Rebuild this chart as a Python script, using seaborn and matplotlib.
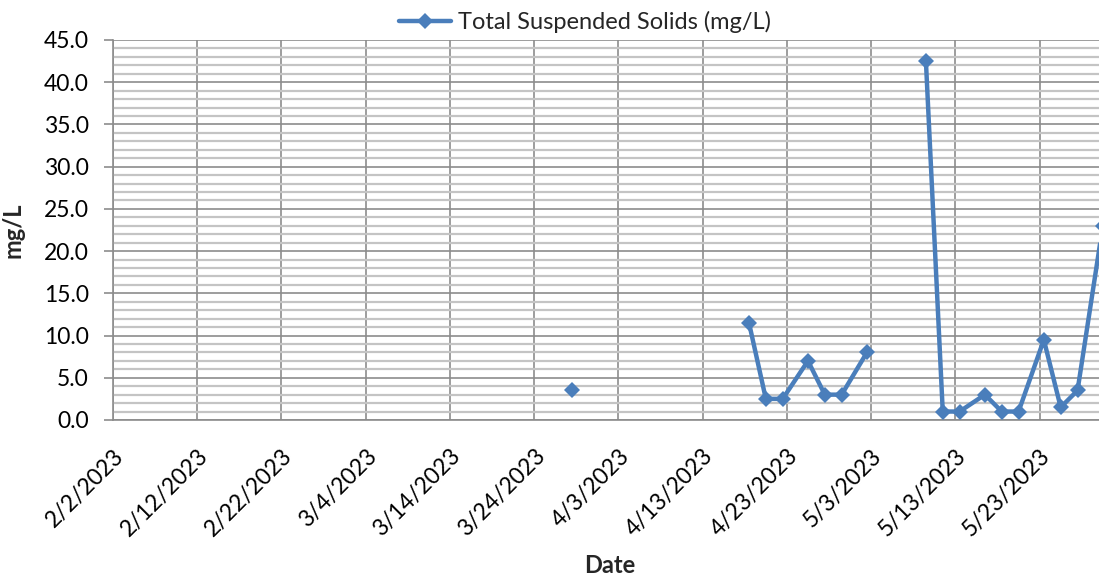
import numpy as np
import pandas as pd
import matplotlib
matplotlib.use("Agg")
import matplotlib.pyplot as plt
from matplotlib.lines import Line2D
from matplotlib.ticker import MultipleLocator, FormatStrFormatter
import seaborn as sns

# Sampling dates and Total Suspended Solids results (NaN = no result reported)
sample_dates = [
    "2023-03-28", "2023-04-04",
    "2023-04-18", "2023-04-20", "2023-04-22", "2023-04-25", "2023-04-27",
    "2023-04-29", "2023-05-02", "2023-05-05",
    "2023-05-09", "2023-05-11", "2023-05-13", "2023-05-16", "2023-05-18",
    "2023-05-20", "2023-05-23", "2023-05-25", "2023-05-27", "2023-05-30",
]
tss_mg_l = [
    3.5, np.nan,
    11.5, 2.5, 2.5, 7.0, 3.0,
    3.0, 8.0, np.nan,
    42.5, 1.0, 1.0, 3.0, 1.0,
    1.0, 9.5, 1.5, 3.5, 23.0,
]
series_label = "Total Suspended Solids (mg/L)"
x_title = "Date"
y_title = "mg/L"
axis_start = "2023-02-02"
axis_end = "2023-05-31"

df = pd.DataFrame({"date": pd.to_datetime(sample_dates), "tss": tss_mg_l})
# each unbroken stretch of results is drawn as its own line
df["run"] = df["tss"].isna().cumsum()
df = df.dropna(subset=["tss"])
# points sit in the middle of their day, as on a date axis with day buckets
df["pos"] = df["date"] + pd.Timedelta(hours=12)

sns.set_style("white")
plt.rcParams["font.family"] = ["Lato", "DejaVu Sans"]

blue = "#4A7EBB"
major_grey = "#8C8C8C"
minor_grey = "#C4C4C4"

fig = plt.figure(figsize=(10.99, 5.78), dpi=100)
ax = fig.add_axes([0.1028, 0.2734, 0.9045, 0.6574])

sns.lineplot(
    data=df, x="pos", y="tss", units="run", estimator=None,
    color=blue, linewidth=3.2, marker="D", markersize=8.5,
    markeredgewidth=0, legend=False, ax=ax, zorder=5, clip_on=True,
)

ax.set_ylim(0, 45)
ax.set_xlim(pd.Timestamp(axis_start), pd.Timestamp(axis_end))

ax.yaxis.set_major_locator(MultipleLocator(5))
ax.yaxis.set_minor_locator(MultipleLocator(1))
ax.yaxis.set_major_formatter(FormatStrFormatter("%.1f"))

tick_dates = pd.date_range(axis_start, axis_end, freq="10D")
ax.set_xticks(tick_dates)
ax.set_xticklabels([f"{d.month}/{d.day}/{d.year}" for d in tick_dates])

ax.grid(True, which="major", axis="both", color=major_grey, linewidth=1.2, zorder=1)
ax.grid(True, which="minor", axis="y", color=minor_grey, linewidth=1.6, zorder=0)
ax.set_axisbelow(True)

for side in ("top", "right"):
    ax.spines[side].set_visible(False)
for side in ("left", "bottom"):
    ax.spines[side].set_color(major_grey)
    ax.spines[side].set_linewidth(1.2)

ax.tick_params(axis="y", which="major", direction="out", length=6.5, width=1.2,
               color=major_grey, labelsize=16.5, labelcolor="black", pad=11, left=True)
ax.tick_params(axis="y", which="minor", length=0)
ax.tick_params(axis="x", which="major", direction="out", length=0,
               labelsize=16.5, labelcolor="black", pad=18, bottom=True)
for lbl in ax.get_xticklabels():
    lbl.set_rotation(45)
    lbl.set_ha("right")
    lbl.set_rotation_mode("anchor")

ax.set_xlabel(x_title, fontsize=17, fontweight="bold", labelpad=10)
ax.set_ylabel(y_title, fontsize=17, fontweight="bold")
ax.yaxis.set_label_coords(-0.089, 0.5)

handle = Line2D([], [], color=blue, linewidth=3.2, marker="D", markersize=8.5,
                markeredgewidth=0)
fig.legend([handle], [series_label], loc="upper center",
           bbox_to_anchor=(0.532, 1.018), frameon=False, fontsize=17,
           handlelength=2.2, handletextpad=0.3)

fig.savefig("out.png", dpi=100)
